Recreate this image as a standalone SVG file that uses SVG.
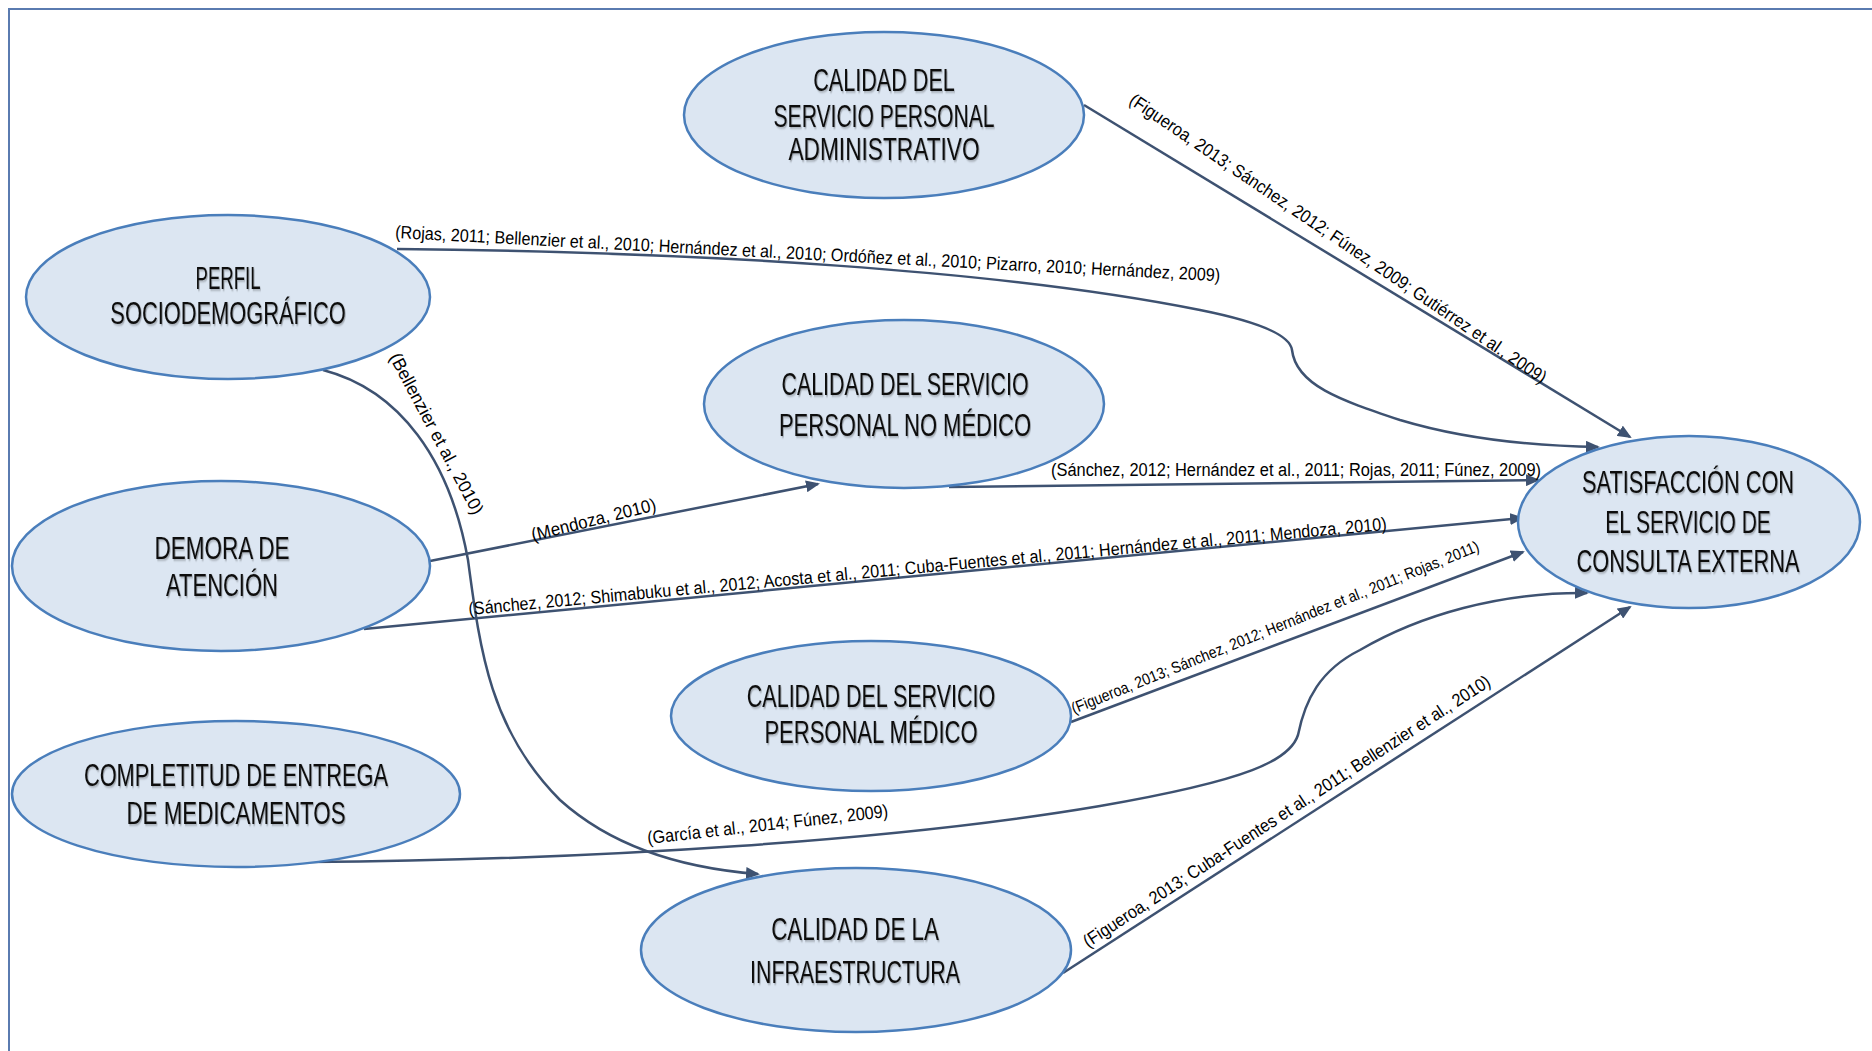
<svg xmlns="http://www.w3.org/2000/svg" width="1872" height="1051" viewBox="0 0 1872 1051">
<style>
.node ellipse{fill:#dce6f2;stroke:#4a7ebb;stroke-width:2.5}
.node text{font-family:"Liberation Sans",Arial,sans-serif;font-size:32px;fill:#111;text-anchor:middle;filter:url(#sh)}
.edge{fill:none;stroke:#3e5271;stroke-width:2.5;marker-end:url(#arr)}
.lbl{font-family:"Liberation Sans",Arial,sans-serif;font-size:18px;fill:#000}
</style>
<defs>
<marker id="arr" markerUnits="userSpaceOnUse" markerWidth="14" markerHeight="12" refX="12" refY="6" orient="auto">
<path d="M0,0 L14,6 L0,12 z" fill="#3e5271"/>
</marker>
<filter id="sh" x="-20%" y="-50%" width="140%" height="200%">
<feDropShadow dx="1.5" dy="1.5" stdDeviation="1" flood-color="#000" flood-opacity="0.3"/>
</filter>
</defs>
<rect x="0" y="0" width="1872" height="1051" fill="#fff"/>
<rect x="9" y="9" width="1900" height="1100" fill="none" stroke="#5a7bb0" stroke-width="2"/>

<g id="connectors">
<path class="edge" d="M1084,105 L1630,437"/>
<path class="edge" d="M397,249 C700,252 1000,270 1200,310 C1260,322 1290,335 1292,350 C1296,385 1340,400 1400,420 C1460,438 1530,446 1598,447"/>
<path class="edge" d="M323,370 C400,390 450,460 468,560 C480,650 490,730 560,800 C610,845 680,868 758,874"/>
<path class="edge" d="M430,561 L818,484"/>
<path class="edge" d="M949,487 L1538,480"/>
<path class="edge" d="M364,629 L1522,518"/>
<path class="edge" d="M1071,722 L1523,552"/>
<path class="edge" d="M308,862 C600,860 900,840 1100,806 C1250,780 1290,760 1298,735 C1305,700 1320,670 1360,650 C1420,615 1500,592 1587,593"/>
<path class="edge" d="M1063,973 L1630,607"/>

<text class="lbl" transform="translate(1128,103) rotate(34.2)" textLength="500" lengthAdjust="spacingAndGlyphs">(Figueroa, 2013; Sánchez, 2012; Fúnez, 2009; Gutiérrez et al., 2009)</text>
<text class="lbl" transform="translate(395,238) rotate(3)" textLength="826" lengthAdjust="spacingAndGlyphs">(Rojas, 2011; Bellenzier et al., 2010; Hernández et al., 2010; Ordóñez et al., 2010; Pizarro, 2010; Hernández, 2009)</text>
<text class="lbl" transform="translate(389,357) rotate(62)" textLength="180" lengthAdjust="spacingAndGlyphs">(Bellenzier et al., 2010)</text>
<text class="lbl" transform="translate(533,541) rotate(-14)" textLength="128" lengthAdjust="spacingAndGlyphs">(Mendoza, 2010)</text>
<text class="lbl" x="1051" y="476" textLength="490" lengthAdjust="spacingAndGlyphs">(Sánchez, 2012; Hernández et al., 2011; Rojas, 2011; Fúnez, 2009)</text>
<text class="lbl" transform="translate(469,615) rotate(-5.3)" textLength="922" lengthAdjust="spacingAndGlyphs">(Sánchez, 2012; Shimabuku et al., 2012; Acosta et al., 2011; Cuba-Fuentes et al., 2011; Hernández et al., 2011; Mendoza, 2010)</text>
<text class="lbl" style="font-size:16px" transform="translate(1074,714) rotate(-21.9)" textLength="438" lengthAdjust="spacingAndGlyphs">(Figueroa, 2013; Sánchez, 2012; Hernández et al., 2011; Rojas, 2011)</text>
<text class="lbl" transform="translate(648,844) rotate(-6.4)" textLength="242" lengthAdjust="spacingAndGlyphs">(García et al., 2014; Fúnez, 2009)</text>
<text class="lbl" transform="translate(1088,948) rotate(-33.1)" textLength="482" lengthAdjust="spacingAndGlyphs">(Figueroa, 2013; Cuba-Fuentes et al., 2011; Bellenzier et al., 2010)</text>
</g>

<g id="n-admin" class="node">
<ellipse cx="884" cy="115" rx="200" ry="83"/>
<g transform="translate(884,0) scale(0.65,1)">
<text x="0" y="91" textLength="218" lengthAdjust="spacingAndGlyphs">CALIDAD  DEL</text>
<text x="0" y="127" textLength="340" lengthAdjust="spacingAndGlyphs">SERVICIO  PERSONAL</text>
<text x="0" y="160" textLength="294" lengthAdjust="spacingAndGlyphs">ADMINISTRATIVO</text>
</g>
</g>
<g id="n-perfil" class="node">
<ellipse cx="228" cy="297" rx="202" ry="82"/>
<g transform="translate(228,0) scale(0.65,1)">
<text x="0" y="289" textLength="100" lengthAdjust="spacingAndGlyphs">PERFIL</text>
<text x="0" y="324" textLength="362" lengthAdjust="spacingAndGlyphs">SOCIODEMOGRÁFICO</text>
</g>
</g>
<g id="n-nomedico" class="node">
<ellipse cx="904" cy="404" rx="200" ry="84"/>
<g transform="translate(905,0) scale(0.65,1)">
<text x="0" y="395" textLength="380" lengthAdjust="spacingAndGlyphs">CALIDAD  DEL  SERVICIO</text>
<text x="0" y="436" textLength="388" lengthAdjust="spacingAndGlyphs">PERSONAL  NO  MÉDICO</text>
</g>
</g>
<g id="n-demora" class="node">
<ellipse cx="221" cy="566" rx="209" ry="85"/>
<g transform="translate(222,0) scale(0.65,1)">
<text x="0" y="559" textLength="208" lengthAdjust="spacingAndGlyphs">DEMORA  DE</text>
<text x="0" y="596" textLength="172" lengthAdjust="spacingAndGlyphs">ATENCIÓN</text>
</g>
</g>
<g id="n-satisf" class="node">
<ellipse cx="1689" cy="522" rx="171" ry="86"/>
<g transform="translate(1688,0) scale(0.65,1)">
<text x="0" y="493" textLength="326" lengthAdjust="spacingAndGlyphs">SATISFACCIÓN  CON</text>
<text x="0" y="533" textLength="255" lengthAdjust="spacingAndGlyphs">EL SERVICIO  DE</text>
<text x="0" y="572" textLength="343" lengthAdjust="spacingAndGlyphs">CONSULTA  EXTERNA</text>
</g>
</g>
<g id="n-medico" class="node">
<ellipse cx="871" cy="716" rx="200" ry="75"/>
<g transform="translate(871,0) scale(0.65,1)">
<text x="0" y="707" textLength="382" lengthAdjust="spacingAndGlyphs">CALIDAD  DEL  SERVICIO</text>
<text x="0" y="743" textLength="328" lengthAdjust="spacingAndGlyphs">PERSONAL  MÉDICO</text>
</g>
</g>
<g id="n-completitud" class="node">
<ellipse cx="236" cy="794" rx="224" ry="73"/>
<g transform="translate(236,0) scale(0.65,1)">
<text x="0" y="786" textLength="468" lengthAdjust="spacingAndGlyphs">COMPLETITUD  DE  ENTREGA</text>
<text x="0" y="824" textLength="337" lengthAdjust="spacingAndGlyphs">DE  MEDICAMENTOS</text>
</g>
</g>
<g id="n-infra" class="node">
<ellipse cx="856" cy="950" rx="215" ry="82"/>
<g transform="translate(855,0) scale(0.65,1)">
<text x="0" y="940" textLength="258" lengthAdjust="spacingAndGlyphs">CALIDAD  DE  LA</text>
<text x="0" y="983" textLength="323" lengthAdjust="spacingAndGlyphs">INFRAESTRUCTURA</text>
</g>
</g>
</svg>
